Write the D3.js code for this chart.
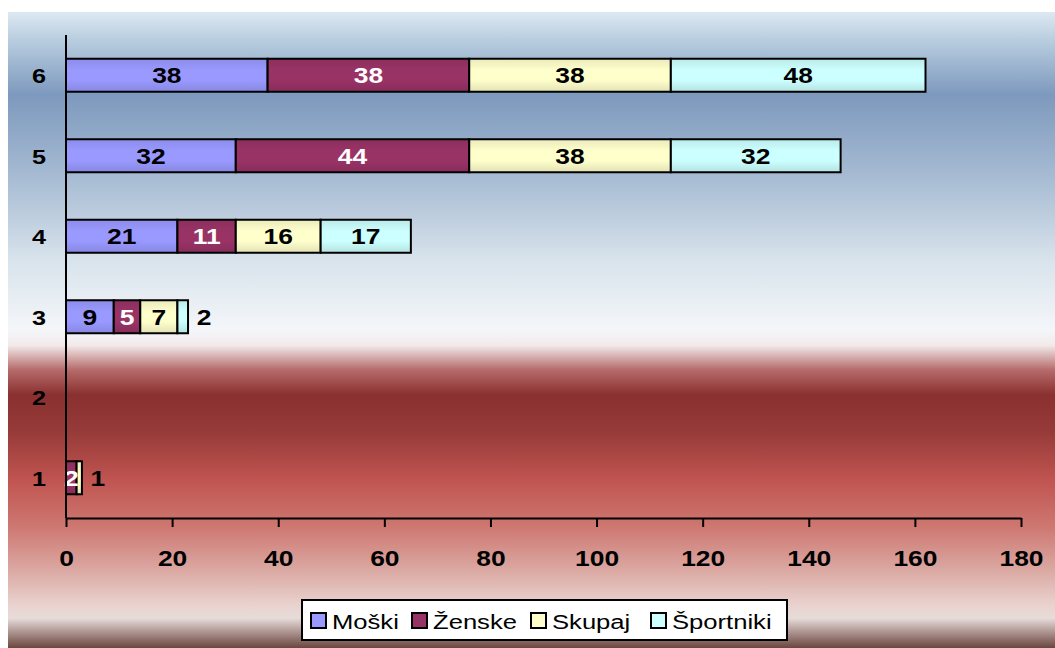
<!DOCTYPE html>
<html>
<head>
<meta charset="utf-8">
<script src="https://cdn.jsdelivr.net/npm/d3@7"></script>
<style>
  html, body { margin: 0; padding: 0; background: #ffffff; }
  svg { display: block; }
  text { font-family: Arial, "Liberation Sans", sans-serif; }
</style>
</head>
<body>
<svg id="chart" width="1055" height="648"></svg>
<script>
// Categories (bottom to top) and the four stacked series
const categories = ["1", "2", "3", "4", "5", "6"];
const seriesNames = ["Moški", "Ženske", "Skupaj", "Športniki"];
const moski     = [0, 0, 9, 21, 32, 38];
const zenske    = [2, 0, 5, 11, 44, 38];
const skupaj    = [1, 0, 7, 16, 38, 38];
const sportniki = [0, 0, 2, 17, 32, 48];
const xTicks = [0, 20, 40, 60, 80, 100, 120, 140, 160, 180];

const colors = ["#9999ff", "#993366", "#ffffcc", "#ccffff"];
const labelColors = ["#000000", "#ffffff", "#000000", "#000000"];
const stretch = 1.2; // horizontal stretch of all text

const rows = categories.map((c, i) => ({
  cat: c,
  "Moški": moski[i],
  "Ženske": zenske[i],
  "Skupaj": skupaj[i],
  "Športniki": sportniki[i]
}));

const svg = d3.select("#chart");
const defs = svg.append("defs");

// Background: blue sky fading to white, then deep red fading to pink and brown
const bg = defs.append("linearGradient").attr("id", "bg")
  .attr("x1", 0).attr("y1", 0).attr("x2", 0).attr("y2", 1);
[
  [0.000, "#dde9f2"], [0.044, "#b8cddf"], [0.130, "#7d99bd"],
  [0.267, "#a9bdd4"], [0.390, "#d8e3ec"], [0.500, "#f4f6f9"],
  [0.524, "#f2eaea"], [0.563, "#b66a6a"], [0.602, "#8a3030"],
  [0.657, "#953a38"], [0.736, "#c05450"], [0.814, "#cf7a74"],
  [0.877, "#dba8a2"], [0.932, "#e9d2ce"], [0.953, "#e6dcd9"],
  [0.980, "#a08480"], [1.000, "#6a463f"]
].forEach(([o, c]) => bg.append("stop").attr("offset", o).attr("stop-color", c));

svg.append("rect")
  .attr("x", 8).attr("y", 12).attr("width", 1047).attr("height", 636)
  .attr("fill", "url(#bg)");

// Subtle shading on each series fill
colors.forEach((c, i) => {
  const g = defs.append("linearGradient").attr("id", "seg" + i)
    .attr("x1", 0).attr("y1", 0).attr("x2", 0).attr("y2", 1);
  const base = d3.color(c);
  g.append("stop").attr("offset", 0).attr("stop-color", base.darker(0.25));
  g.append("stop").attr("offset", 0.35).attr("stop-color", base);
  g.append("stop").attr("offset", 0.65).attr("stop-color", base);
  g.append("stop").attr("offset", 1).attr("stop-color", base.darker(0.35));
});

const x = d3.scaleLinear().domain([0, 180]).range([66, 1021]);
const y = d3.scaleBand().domain(categories).range([518, 35]).paddingInner(0.59).paddingOuter(0.295);

const stack = d3.stack().keys(seriesNames);
const stacked = stack(rows);

// Bars
const layers = svg.append("g").selectAll("g")
  .data(stacked).join("g")
  .attr("fill", (d, i) => "url(#seg" + i + ")");

layers.selectAll("rect")
  .data(d => d.filter(s => s[1] - s[0] > 0))
  .join("rect")
  .attr("x", d => x(d[0]))
  .attr("y", d => y(d.data.cat))
  .attr("width", d => x(d[1]) - x(d[0]))
  .attr("height", y.bandwidth())
  .attr("stroke", "#000")
  .attr("stroke-width", 2);

// Value labels: inside the segment, or past the bar end when the last segment is too narrow
const labels = svg.append("g");
stacked.forEach((layer, si) => {
  layer.forEach(d => {
    const v = d[1] - d[0];
    if (v <= 0) return;
    const w = x(d[1]) - x(d[0]);
    const isLast = stacked.slice(si + 1).every(l => {
      const r = l.find(e => e.data.cat === d.data.cat);
      return r[1] - r[0] === 0;
    });
    let cx = (x(d[0]) + x(d[1])) / 2;
    let fill = labelColors[si];
    if (isLast && w < 18) {
      cx = x(d[1]) + 16;
      fill = "#000";
    }
    labels.append("text")
      .attr("transform", `translate(${cx},${y(d.data.cat) + y.bandwidth() / 2 + 8}) scale(${stretch},1)`)
      .attr("text-anchor", "middle")
      .attr("font-size", 22)
      .attr("font-weight", "bold")
      .attr("fill", fill)
      .text(v);
  });
});

// Category axis
const yAxis = svg.append("g").attr("transform", "translate(66,0)")
  .call(d3.axisLeft(y).tickSize(0).tickPadding(0));
yAxis.select(".domain").attr("stroke", "#000").attr("stroke-width", 2)
  .attr("d", "M0,35V518");
yAxis.selectAll(".tick text")
  .attr("x", null)
  .attr("dy", null)
  .attr("text-anchor", "middle")
  .attr("transform", `translate(-27,8) scale(${stretch},1)`)
  .attr("font-size", 21)
  .attr("font-weight", "bold")
  .attr("fill", "#000");

// Value axis
const xAxis = svg.append("g").attr("transform", "translate(0,518)")
  .call(d3.axisBottom(x).tickValues(xTicks).tickSize(9).tickSizeOuter(0).tickPadding(0));
xAxis.select(".domain").attr("stroke", "#000").attr("stroke-width", 2);
xAxis.selectAll(".tick line").attr("stroke", "#000").attr("stroke-width", 2);
xAxis.selectAll(".tick text")
  .attr("y", null)
  .attr("dy", null)
  .attr("transform", `translate(0,48) scale(${stretch},1)`)
  .attr("font-size", 22)
  .attr("font-weight", "bold")
  .attr("fill", "#000");

// Legend
const legend = svg.append("g");
legend.append("rect")
  .attr("x", 302).attr("y", 600).attr("width", 485).attr("height", 40)
  .attr("fill", "#fff").attr("stroke", "#000").attr("stroke-width", 2);
const legendX = [311, 412, 531, 651];
seriesNames.forEach((name, i) => {
  legend.append("rect")
    .attr("x", legendX[i]).attr("y", 613).attr("width", 15).attr("height", 15)
    .attr("fill", colors[i]).attr("stroke", "#000").attr("stroke-width", 2);
  legend.append("text")
    .attr("transform", `translate(${legendX[i] + 21},629) scale(1.22,1)`)
    .attr("font-size", 21)
    .attr("fill", "#000")
    .text(name);
});
</script>
</body>
</html>
